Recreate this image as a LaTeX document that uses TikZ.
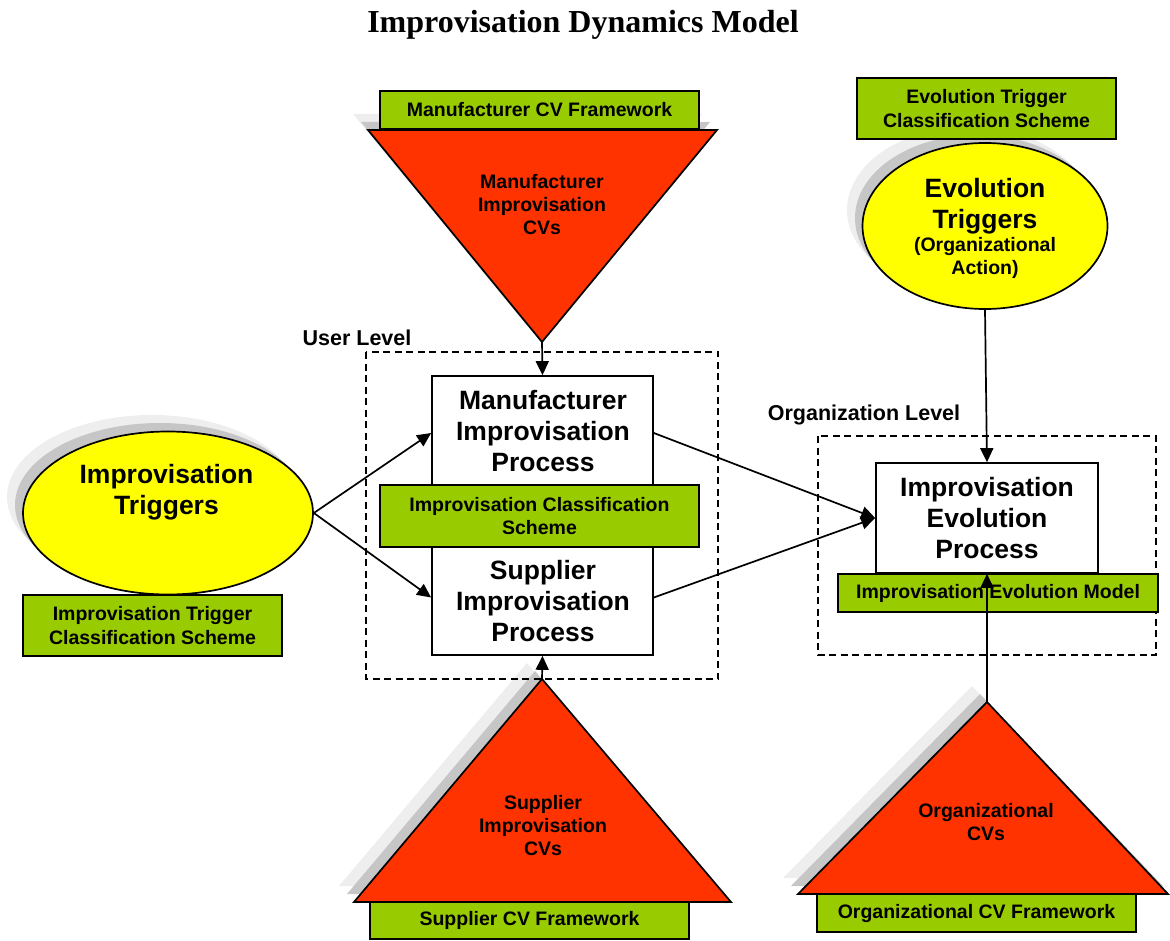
\documentclass[tikz,border=0pt]{standalone}
\usepackage{fontspec}
\setmainfont{Liberation Sans}
\newfontfamily\titlefont{Liberation Serif}
\usetikzlibrary{arrows.meta,shapes.geometric}
\definecolor{schemegreen}{HTML}{99CC00}
\definecolor{cvred}{HTML}{FF3300}
\definecolor{trigyellow}{HTML}{FFFF00}
\begin{document}
\begin{tikzpicture}[x=1pt,y=-1pt,
  proc/.style={draw,line width=1.7pt,fill=white,inner sep=0pt},
  scheme/.style={draw,line width=1.7pt,fill=schemegreen,inner sep=0pt,
    font=\fontsize{19.5}{23.5}\selectfont\bfseries,align=center},
  cv/.style={draw,line width=1.7pt,fill=cvred,line join=miter},
  trig/.style={draw,line width=1.7pt,fill=trigyellow,ellipse,inner sep=0pt},
  shadelight/.style={fill=gray!13},
  shadedark/.style={fill=gray!45},
  level/.style={draw,line width=1.5pt,dash pattern=on 7pt off 4.5pt},
  arr/.style={line width=1.7pt,-{Triangle[length=14pt,width=13pt]}},
  big/.style={font=\fontsize{26.5}{31}\selectfont\bfseries,align=center},
  mid/.style={font=\fontsize{19.5}{23}\selectfont\bfseries,align=center},
  lbl/.style={font=\fontsize{21.5}{25}\selectfont\bfseries},
]
\useasboundingbox (0,0) rectangle (1170,941);

% title
\node (title) at (583,25) {\titlefont\bfseries\fontsize{32}{36}\selectfont Improvisation Dynamics Model};

% drop shadows of the ellipses and triangles
\fill[shadelight] (152,497) ellipse [x radius=145pt, y radius=82pt];
\fill[shadedark]  (160,505) ellipse [x radius=145pt, y radius=82pt];
\fill[shadelight] (969,210) ellipse [x radius=122pt, y radius=83pt];
\fill[shadedark]  (977,218) ellipse [x radius=122pt, y radius=83pt];
\fill[shadelight] (353,114) -- (702,114) -- (527,326) -- cycle;
\fill[shadedark]  (361,122) -- (710,122) -- (535,334) -- cycle;
\fill[shadelight] (339,886) -- (716,886) -- (527,663) -- cycle;
\fill[shadedark]  (347,894) -- (724,894) -- (535,671) -- cycle;
\fill[shadelight] (783,878) -- (1155,878) -- (972,686) -- cycle;
\fill[shadedark]  (791,886) -- (1163,886) -- (980,694) -- cycle;

% trigger ellipses
\node[trig, minimum width=290pt, minimum height=163pt] (itrig) at (168,513) {};
\node[big] (itrigtext) at (166.5,492.5) {Improvisation\\Triggers};
\node[trig, minimum width=245pt, minimum height=166pt] (etrig) at (985,226) {};
\node[big] (etrigtext) at (985,206) {Evolution\\Triggers};
\node[mid] (etrigsub) at (985,258) {(Organizational\\Action)};

% control-variable triangles
\draw[cv] (368,130) -- (717,130) -- (542,342) -- cycle;
\coordinate (mcvtip) at (542,342);
\node[mid] (mcvtext) at (542,205) {Manufacturer\\Improvisation\\CVs};
\draw[cv] (354,902) -- (731,902) -- (542,679) -- cycle;
\coordinate (scvtip) at (542,679);
\node[mid] (scvtext) at (543,826) {Supplier\\Improvisation\\CVs};
\draw[cv] (798,894) -- (1168,894) -- (987,702) -- cycle;
\coordinate (ocvtip) at (987,702);
\node[mid] (ocvtext) at (986,822) {Organizational\\CVs};

% level frames
\draw[level] (366,352) rectangle (718,679);
\node[lbl] (userlvl) at (357,338) {User Level};
\draw[level] (818,436) rectangle (1156,655);
\node[lbl] (orglvl) at (864,415) {Organization Level};

% process boxes
\node[proc, minimum width=221pt, minimum height=114pt] (mbox) at (542.5,433) {};
\node[big] (mtext) at (543,431) {Manufacturer\\Improvisation\\Process};
\node[proc, minimum width=221pt, minimum height=115pt] (sbox) at (542.5,597.5) {};
\node[big] (stext) at (543,601) {Supplier\\Improvisation\\Process};
\node[proc, minimum width=222pt, minimum height=110pt] (ebox) at (987,518) {};
\node[big] (etext) at (987,518) {Improvisation\\Evolution\\Process};

% classification schemes and frameworks
\node[scheme, minimum width=259pt, minimum height=61pt] (itscheme) at (152.5,625.5) {Improvisation Trigger\\Classification Scheme};
\node[scheme, minimum width=319pt, minimum height=38pt] (mframe) at (539.5,110) {Manufacturer CV Framework};
\node[scheme, minimum width=319pt, minimum height=62pt] (icscheme) at (539.5,516) {Improvisation Classification\\Scheme};
\node[scheme, minimum width=259pt, minimum height=61pt] (etscheme) at (986.5,108.5) {Evolution Trigger\\Classification Scheme};
\node[scheme, minimum width=320pt, minimum height=38pt] (emodel) at (998,593) {Improvisation Evolution Model};
\node[scheme, minimum width=319pt, minimum height=37pt] (sframe) at (529.5,920.5) {Supplier CV Framework};
\node[scheme, minimum width=319pt, minimum height=38pt] (oframe) at (976.5,913) {Organizational CV Framework};

% connectors
\draw[arr] (itrig.east) -- (mbox.west);
\draw[arr] (itrig.east) -- (sbox.west);
\draw[arr] (mcvtip) -- (mbox.north);
\draw[arr] (scvtip) -- (sbox.south);
\draw[arr] (mbox.east) -- (ebox.west);
\draw[arr] (sbox.east) -- (ebox.west);
\draw[arr] (etrig.south) -- (ebox.north);
\draw[arr] (ocvtip) -- (ebox.south);
\end{tikzpicture}
\end{document}
